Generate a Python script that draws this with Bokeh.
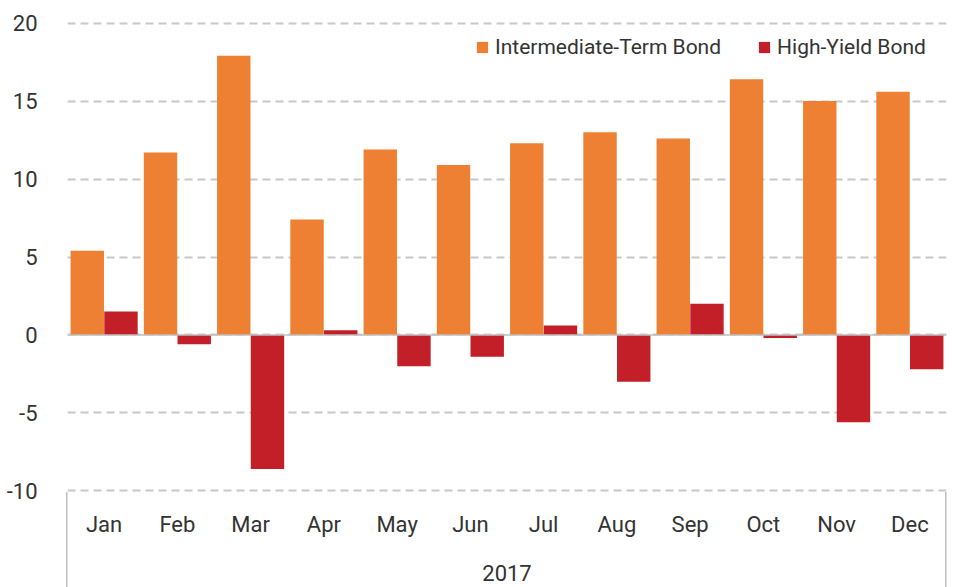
from bokeh.plotting import figure
from bokeh.models import (ColumnDataSource, FactorRange, Range1d, Span, Legend, LegendItem,
                          FixedTicker, PrintfTickFormatter)
from bokeh.transform import dodge
from bokeh.embed import file_html
from bokeh.resources import INLINE

months = ["Jan", "Feb", "Mar", "Apr", "May", "Jun", "Jul", "Aug", "Sep", "Oct", "Nov", "Dec"]
intermediate = [5.4, 11.7, 17.9, 7.4, 11.9, 10.9, 12.3, 13.0, 12.6, 16.4, 15.0, 15.6]
high_yield = [1.5, -0.6, -8.6, 0.3, -2.0, -1.4, 0.6, -3.0, 2.0, -0.2, -5.6, -2.2]
series_names = ["Intermediate-Term Bond", "High-Yield Bond"]
year_label = "2017"
y_ticks = [-10, -5, 0, 5, 10, 15, 20]

FONT = "Roboto"
TXT = "#333333"
ORANGE = "#EE8033"
RED = "#C21F28"
GRID = "#C8C8C8"
AXISGRAY = "#BFBFBF"

W, H = 953, 587
LEFT, RIGHT, TOP, BOTTOM = 67, 7, 21, 95

src = ColumnDataSource(dict(month=months, a=intermediate, b=high_yield))

p = figure(x_range=FactorRange(*months, range_padding=0), y_range=Range1d(-10.1, 20.1),
           width=W, height=H, output_backend="svg", toolbar_location=None,
           min_border_left=LEFT, min_border_right=RIGHT, min_border_top=TOP,
           min_border_bottom=BOTTOM)
p.outline_line_color = None
p.background_fill_color = None
p.border_fill_color = None

# side lines of the category box below the plot area (drawn as element background)
line_w = 1.5
p.styles = {
    "background-color": "white",
    "background-image": f"linear-gradient({AXISGRAY}, {AXISGRAY}), linear-gradient({AXISGRAY}, {AXISGRAY})",
    "background-size": f"{line_w}px {BOTTOM}px, {line_w}px {BOTTOM}px",
    "background-position": f"{LEFT - 0.75}px {H - BOTTOM}px, {W - RIGHT - 0.75}px {H - BOTTOM}px",
    "background-repeat": "no-repeat",
}

r1 = p.vbar(x=dodge("month", -0.23, range=p.x_range), top="a", bottom=0, width=0.456,
            source=src, fill_color=ORANGE, line_color=None)
r2 = p.vbar(x=dodge("month", 0.23, range=p.x_range), top="b", bottom=0, width=0.456,
            source=src, fill_color=RED, line_color=None)

p.add_layout(Span(location=0, dimension="width", line_color=AXISGRAY, line_width=1.5))

# grid
p.xgrid.grid_line_color = None
p.ygrid.grid_line_color = GRID
p.ygrid.grid_line_width = 2
p.ygrid.grid_line_dash = "8 5"
p.yaxis.ticker = FixedTicker(ticks=y_ticks)
p.yaxis.formatter = PrintfTickFormatter(format="%d")

# axes
for ax in (p.xaxis[0], p.yaxis[0]):
    ax.axis_line_color = None
    ax.major_tick_line_color = None
    ax.minor_tick_line_color = None
    ax.major_label_text_font = FONT
    ax.major_label_text_font_size = "22px"
    ax.major_label_text_color = TXT
p.yaxis.major_label_standoff = 24
p.xaxis.major_label_standoff = 13
p.xaxis.axis_label = year_label
p.xaxis.axis_label_text_font = FONT
p.xaxis.axis_label_text_font_size = "22px"
p.xaxis.axis_label_text_font_style = "normal"
p.xaxis.axis_label_text_color = TXT
p.xaxis.axis_label_standoff = 25

legend = Legend(items=[LegendItem(label=series_names[0], renderers=[r1]),
                       LegendItem(label=series_names[1], renderers=[r2])],
                orientation="horizontal", location=(408, 433),
                background_fill_alpha=0, border_line_color=None,
                label_text_font=FONT, label_text_font_size="21px", label_text_color=TXT,
                glyph_width=14, glyph_height=14, spacing=36, label_standoff=6,
                margin=0, padding=0)
p.add_layout(legend)

open("out.html", "w").write(file_html(p, INLINE))
